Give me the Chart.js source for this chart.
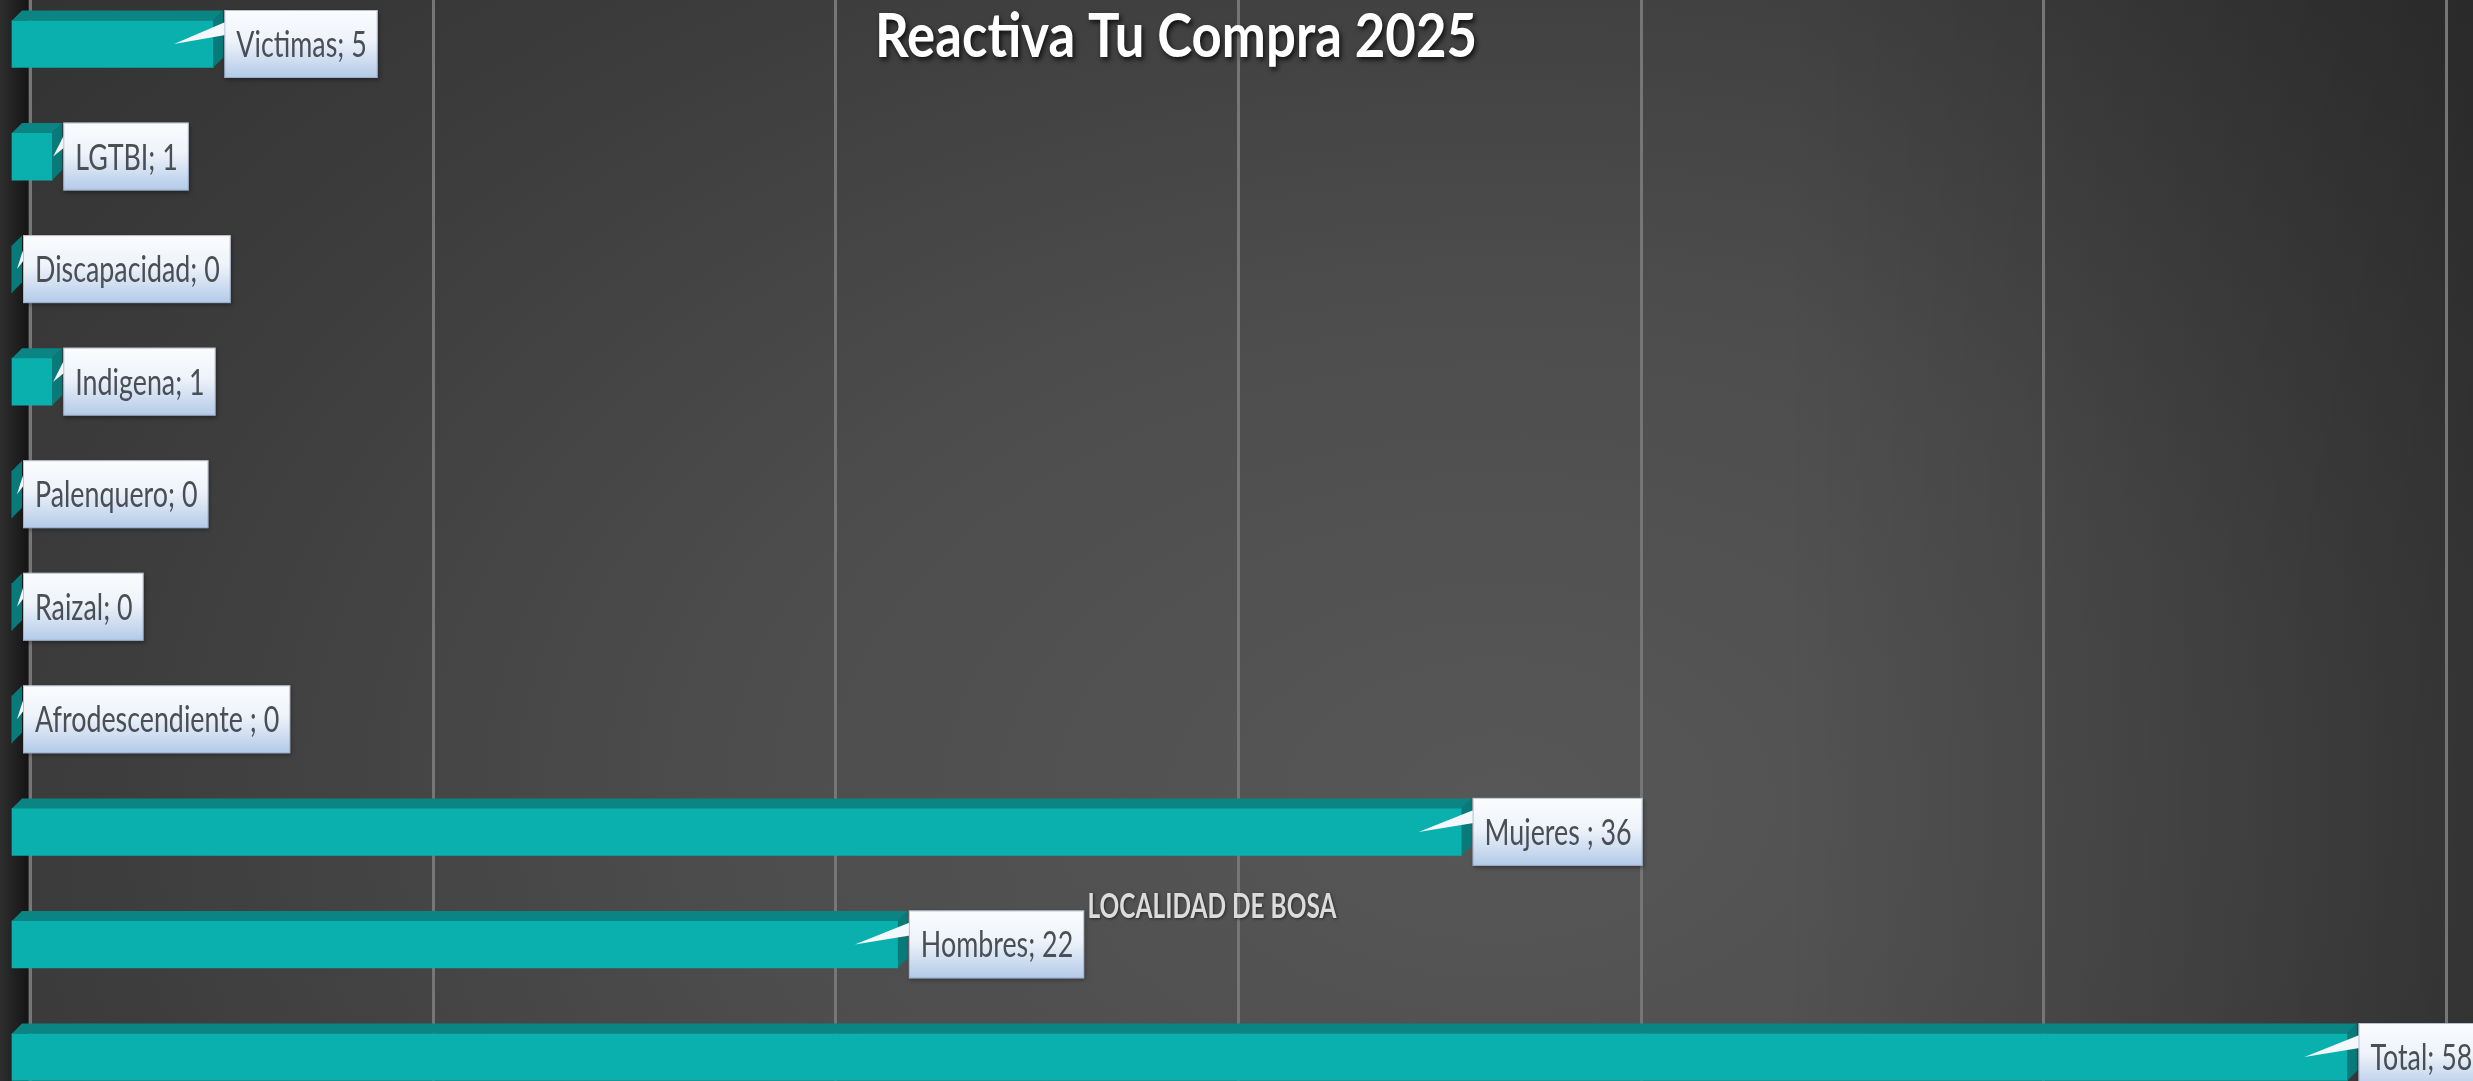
<!DOCTYPE html>
<html>
<head>
<meta charset="utf-8">
<title>Reactiva Tu Compra 2025</title>
<script src="https://cdn.jsdelivr.net/npm/chart.js@4.4.1/dist/chart.umd.min.js"></script>
<style>
html,body{margin:0;padding:0;overflow:hidden;background:#3a3a3a;}
#wrap{
    position:relative;width:2473px;height:1081px;
    background:
        linear-gradient(to right, rgba(0,0,0,0) 72%, rgba(0,0,0,0.28) 100%),
        radial-gradient(ellipse 2000px 1300px at 1500px 800px, #575757 0%, #4d4d4d 38%, #3c3c3c 72%, #313131 100%);
}
</style>
</head>
<body>
<div id="wrap"><canvas id="bosaChart"></canvas></div>
<script>

// ====================================
// DATOS
// ====================================

const categorias = [
    'Victimas','LGTBI','Discapacidad','Indigena','Palenquero',
    'Raizal','Afrodescendiente ','Mujeres ','Hombres','Total'
];

const beneficiarios = [5, 1, 0, 1, 0, 0, 0, 36, 22, 58];

const ticksX = [0, 10, 20, 30, 40, 50, 60];

const titulo = 'Reactiva Tu Compra 2025';
const tituloEje = 'LOCALIDAD DE BOSA';

// ====================================
// ESTILO
// ====================================

const fuente = 'Lato, "Open Sans", sans-serif';
const estrecho = 0.745;  // el original usa una letra angosta tipo Calibri
const tealFrente = '#09b0ae';
const tealArriba = '#0b8584';
const tealLado = '#087a79';
const prof = 10;        // profundidad 3D de las barras
const profPared = 18;   // desplazamiento de la pared del fondo

// gridlines y pared izquierda
const fondo3D = {
    id:'fondo3D',
    beforeDatasetsDraw(chart){
        const ctx = chart.ctx;
        const x = chart.scales.x;
        const H = chart.height;
        ctx.save();
        const g = ctx.createLinearGradient(0,0,28,0);
        g.addColorStop(0,'#2e2e2e');
        g.addColorStop(1,'#151515');
        ctx.fillStyle = g;
        ctx.fillRect(0,0,28,H);
        ctx.strokeStyle = '#767676';
        ctx.lineWidth = 3;
        ticksX.forEach(v=>{
            const px = Math.round(x.getPixelForValue(v) + profPared) + 0.5;
            ctx.beginPath();
            ctx.moveTo(px,0);
            ctx.lineTo(px,H);
            ctx.stroke();
        });
        ctx.restore();
    }
};

// caras superior y lateral de las barras
const barras3D = {
    id:'barras3D',
    afterDatasetsDraw(chart){
        const ctx = chart.ctx;
        const meta = chart.getDatasetMeta(0);
        ctx.save();
        meta.data.forEach(bar=>{
            const p = bar.getProps(['x','y','base','height'], true);
            const top = p.y - p.height/2;
            const bot = p.y + p.height/2;
            ctx.fillStyle = tealArriba;
            ctx.beginPath();
            ctx.moveTo(p.base, top);
            ctx.lineTo(p.base+prof, top-prof);
            ctx.lineTo(p.x+prof, top-prof);
            ctx.lineTo(p.x, top);
            ctx.closePath();
            ctx.fill();
            ctx.fillStyle = tealLado;
            ctx.beginPath();
            ctx.moveTo(p.x, top);
            ctx.lineTo(p.x+prof, top-prof);
            ctx.lineTo(p.x+prof, bot-prof);
            ctx.lineTo(p.x, bot);
            ctx.closePath();
            ctx.fill();
        });
        ctx.restore();
    }
};

// etiquetas tipo globo, titulo y texto del eje
const etiquetas = {
    id:'etiquetas',
    afterDraw(chart){
        const ctx = chart.ctx;
        const meta = chart.getDatasetMeta(0);
        ctx.save();
        ctx.font = '36px ' + fuente;
        ctx.textBaseline = 'alphabetic';
        ctx.textAlign = 'left';
        meta.data.forEach((bar,i)=>{
            const p = bar.getProps(['x','y','base'], true);
            const texto = categorias[i] + '; ' + beneficiarios[i];
            const w = ctx.measureText(texto).width * estrecho;
            const bx = p.x + 11;
            const by = p.y - 34;
            const bw = w + 23;
            const bh = 68;
            const largo = p.x - p.base;
            const punta = Math.max(6, Math.min(54, largo*0.25));

            const g = ctx.createLinearGradient(0,by,0,by+bh);
            g.addColorStop(0,'#fbfcfe');
            g.addColorStop(0.45,'#eef3fa');
            g.addColorStop(1,'#b2cae8');

            ctx.shadowColor = 'rgba(0,0,0,0.35)';
            ctx.shadowBlur = 4;
            ctx.shadowOffsetX = 1;
            ctx.shadowOffsetY = 2;
            ctx.fillStyle = g;
            ctx.fillRect(bx,by,bw,bh);
            ctx.shadowColor = 'transparent';

            ctx.fillStyle = '#f4f8fc';
            ctx.beginPath();
            ctx.moveTo(bx+1, by+12);
            ctx.lineTo(bx-punta, p.y);
            ctx.lineTo(bx+1, by+25);
            ctx.closePath();
            ctx.fill();

            ctx.strokeStyle = 'rgba(140,155,180,0.6)';
            ctx.lineWidth = 1;
            ctx.strokeRect(bx+0.5,by+0.5,bw-1,bh-1);

            ctx.fillStyle = '#4a4f56';
            ctx.fillText(texto, bx+12, p.y+13, w);
        });

        // titulo
        ctx.textAlign = 'center';
        ctx.font = 'bold 62px ' + fuente;
        ctx.shadowColor = 'rgba(0,0,0,0.75)';
        ctx.shadowBlur = 5;
        ctx.shadowOffsetX = 2;
        ctx.shadowOffsetY = 3;
        ctx.fillStyle = '#ffffff';
        ctx.fillText(titulo, 1176, 57, 602);

        // texto del eje
        ctx.font = 'bold 35px ' + fuente;
        ctx.shadowColor = 'rgba(0,0,0,0.5)';
        ctx.shadowBlur = 3;
        ctx.shadowOffsetX = 1;
        ctx.shadowOffsetY = 1;
        ctx.fillStyle = '#dcdcdc';
        ctx.fillText(tituloEje, 1212, 918, 249);
        ctx.restore();
    }
};

// ====================================
// GRAFICO
// ====================================

const ctxBosa = document.getElementById('bosaChart').getContext('2d');
const bosaChart = new Chart(ctxBosa, {
    type:'bar',
    data:{
        labels: categorias,
        datasets:[{
            label:'Reactiva Tu Compra 2025',
            data: beneficiarios,
            backgroundColor: tealFrente,
            borderWidth: 0,
            barThickness: 47,
            clip: false
        }]
    },
    options:{
        indexAxis:'y',
        responsive:true,
        maintainAspectRatio:false,
        animation:false,
        layout:{
            padding:{ left:12, right:45, top:44, bottom:24 }
        },
        plugins:{
            legend:{ display:false },
            title:{ display:false },
            tooltip:{ enabled:false }
        },
        scales:{
            x:{
                display:false,
                min:0,
                max:60,
                ticks:{ stepSize:10 }
            },
            y:{
                display:false,
                offset:false
            }
        }
    },
    plugins:[fondo3D, barras3D, etiquetas]
});

</script>
</body>
</html>
